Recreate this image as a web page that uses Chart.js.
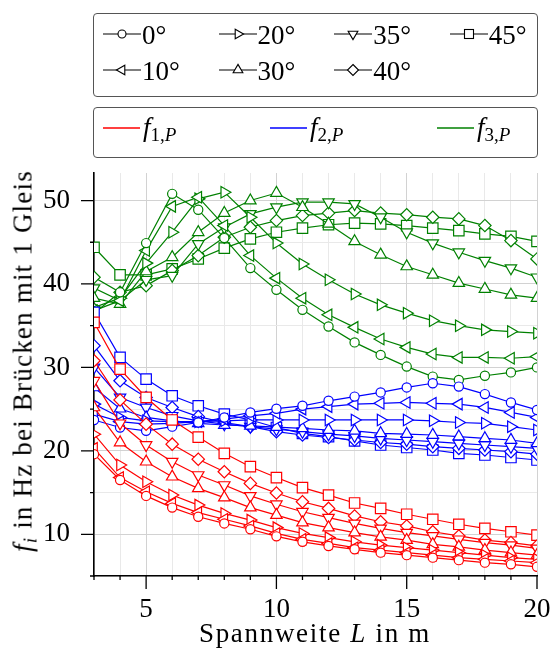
<!DOCTYPE html>
<html>
<head>
<meta charset="utf-8">
<script src="https://cdn.jsdelivr.net/npm/chart.js@4.4.1/dist/chart.umd.min.js"></script>
<style>
  html, body { margin: 0; padding: 0; background: #fff; }
  #wrap { position: relative; width: 554px; height: 649px; overflow: hidden; font-family: 'Liberation Serif', serif; color: #000; }
  #c { position: absolute; left: 0; top: 0; }
  .box { position: absolute; border: 1px solid #555; border-radius: 4px; box-sizing: border-box; }
  .lbl { position: absolute; font-size: 27px; line-height: 27px; white-space: nowrap; }
  .sym { position: absolute; }
  sub { font-size: 19px; vertical-align: -5px; line-height: 0; }
  #ytitle { position: absolute; font-size: 27px; line-height: 27px; white-space: nowrap; letter-spacing: 1.2px;
            left: 23px; top: 361px; transform: translate(-50%, -50%) rotate(-90deg); }
  #xtitle { position: absolute; font-size: 27px; line-height: 27px; white-space: nowrap; letter-spacing: 1.7px;
            left: 315px; top: 620px; transform: translateX(-50%); }
</style>
</head>
<body>
<div id="wrap">
  <canvas id="c" width="554" height="649"></canvas>
  <div class="box" style="left:93px; top:13px; width:445px; height:84px;"></div>
  <div class="box" style="left:93px; top:107px; width:445px; height:51px;"></div>
  <div id="legend"></div>
  <div id="ytitle"><i>f</i><sub><i>i</i></sub> in Hz bei Brücken mit 1 Gleis</div>
  <div id="xtitle">Spannweite <i>L</i> in m</div>
</div>
<script>
// span lengths L in m
const spans = [3, 4, 5, 6, 7, 8, 9, 10, 11, 12, 13, 14, 15, 16, 17, 18, 19, 20];
const angles = [0, 10, 20, 30, 35, 40, 45];
const xTicks = [5, 10, 15, 20];
const yTicks = [10, 20, 30, 40, 50];

// f1,P (red)
const f1_0  = [19.6, 16.5, 14.6, 13.2, 12.1, 11.3, 10.6, 9.75, 9.1, 8.6, 8.2, 7.8, 7.5, 7.2, 6.9, 6.6, 6.4, 6.1];
const f1_10 = [20.3, 16.8, 15.1, 13.7, 12.6, 11.8, 11.0, 10.1, 9.4, 8.9, 8.4, 8.1, 7.8, 7.5, 7.2, 7.0, 6.8, 6.6];
const f1_20 = [22.0, 18.3, 16.3, 14.7, 13.5, 12.5, 11.7, 10.8, 10.1, 9.6, 9.1, 8.7, 8.4, 8.1, 7.8, 7.5, 7.2, 7.0];
const f1_30 = [25.2, 21.0, 18.7, 16.9, 15.5, 14.4, 13.2, 12.3, 11.4, 10.8, 10.2, 9.7, 9.3, 8.8, 8.5, 8.1, 7.8, 7.5];
const f1_35 = [28.4, 23.3, 20.7, 18.7, 17.1, 15.9, 14.6, 13.6, 12.7, 12.0, 11.3, 10.7, 10.2, 9.8, 9.4, 9.0, 8.7, 8.3];
const f1_40 = [30.8, 26.1, 23.2, 20.8, 19.0, 17.5, 16.1, 14.95, 13.9, 13.1, 12.2, 11.5, 11.0, 10.3, 9.8, 9.3, 9.0, 8.6];
const f1_45 = [35.4, 29.8, 26.4, 23.7, 21.65, 19.7, 18.1, 16.8, 15.6, 14.7, 13.75, 13.1, 12.4, 11.8, 11.2, 10.7, 10.3, 9.9];

// f2,P (blue)
const f2_0  = [23.7, 22.8, 22.4, 22.9, 23.4, 24.0, 24.6, 25.05, 25.4, 26.0, 26.5, 27.0, 27.6, 28.1, 27.7, 26.8, 25.8, 24.9];
const f2_10 = [24.4, 23.5, 23.2, 23.3, 23.5, 23.8, 24.2, 24.5, 25.0, 25.3, 25.6, 25.7, 25.8, 25.7, 25.6, 25.2, 24.6, 24.0];
const f2_20 = [25.6, 24.0, 23.6, 23.5, 23.5, 23.6, 23.7, 23.7, 23.7, 23.7, 23.7, 23.7, 23.7, 23.6, 23.4, 23.3, 22.9, 22.5];
const f2_30 = [27.6, 25.05, 24.0, 23.6, 23.3, 23.1, 23.0, 22.85, 22.7, 22.5, 22.4, 22.1, 22.0, 21.9, 21.7, 21.5, 21.3, 20.9];
const f2_35 = [30.0, 26.4, 25.2, 24.2, 23.6, 23.2, 22.9, 22.6, 22.3, 22.0, 21.8, 21.5, 21.3, 21.1, 20.9, 20.7, 20.5, 20.3];
const f2_40 = [32.6, 28.4, 26.4, 25.2, 24.1, 23.4, 22.9, 22.3, 21.9, 21.6, 21.3, 21.0, 20.8, 20.5, 20.3, 20.1, 19.9, 19.6];
const f2_45 = [36.6, 31.2, 28.6, 26.6, 25.4, 24.4, 23.7, 22.8, 22.1, 21.7, 21.2, 20.7, 20.4, 20.1, 19.7, 19.5, 19.2, 18.9];

// f3,P (green)
const f3_0  = [36.5, 39.0, 44.9, 50.8, 48.9, 45.5, 41.9, 39.3, 36.9, 34.9, 33.0, 31.5, 30.1, 28.9, 28.5, 29.0, 29.4, 30.0];
const f3_10 = [36.8, 38.0, 44.0, 49.3, 50.4, 47.0, 43.4, 40.7, 38.3, 36.3, 34.8, 33.4, 32.4, 31.6, 31.2, 31.2, 31.1, 31.3];
const f3_20 = [37.2, 38.3, 42.5, 46.2, 50.2, 51.0, 48.0, 44.9, 42.4, 40.5, 38.8, 37.5, 36.5, 35.6, 35.0, 34.5, 34.3, 34.1];
const f3_30 = [38.3, 37.6, 41.5, 43.2, 46.2, 48.5, 50.0, 50.9, 49.2, 47.2, 45.1, 43.5, 42.1, 41.1, 40.1, 39.4, 38.7, 38.3];
const f3_35 = [39.5, 38.0, 40.5, 41.0, 44.8, 46.8, 48.4, 49.2, 49.8, 49.8, 49.6, 48.0, 46.2, 44.9, 43.8, 42.8, 41.9, 40.8];
const f3_40 = [40.8, 39.0, 39.8, 41.6, 43.4, 45.6, 46.8, 47.6, 48.2, 48.5, 48.8, 48.5, 48.3, 48.0, 47.8, 47.0, 45.2, 43.0];
const f3_45 = [44.4, 41.1, 41.1, 41.8, 43.0, 44.3, 45.4, 46.2, 46.7, 47.1, 47.3, 47.2, 47.0, 46.7, 46.4, 46.0, 45.7, 45.1];

const seriesNames = ['f1,P', 'f2,P', 'f3,P'];
const seriesColors = ['#ff0000', '#0000ff', '#008000'];
const seriesData = [
    [f1_0, f1_10, f1_20, f1_30, f1_35, f1_40, f1_45],
    [f2_0, f2_10, f2_20, f2_30, f2_35, f2_40, f2_45],
    [f3_0, f3_10, f3_20, f3_30, f3_35, f3_40, f3_45]
];

// marker per angle
const markerStyle = ['circle', 'triangle', 'triangle', 'triangle', 'triangle', 'rectRot', 'rect'];
const markerRot = [0, 270, 90, 0, 180, 0, 0];
const markerSize = [4.6, 6.6, 6.6, 6.6, 6.6, 6.2, 7.4];

const FONT = 'Liberation Serif';
const near = (v, list) => list.some(t => Math.abs(t - v) < 1e-6);

const datasets = [];
seriesData.forEach((group, s) => {
    group.forEach((vals, a) => {
        datasets.push({
            label: seriesNames[s] + ' ' + angles[a] + '°',
            data: spans.map((L, i) => ({ x: L, y: vals[i] })),
            borderColor: seriesColors[s],
            borderWidth: 1.2,
            pointStyle: markerStyle[a],
            rotation: markerRot[a],
            pointRadius: markerSize[a],
            pointBackgroundColor: '#fff',
            pointBorderColor: seriesColors[s],
            pointBorderWidth: 1.2,
            fill: false,
            tension: 0,
            clip: 0
        });
    });
});

// tick marks outside the axes, long for labelled ticks
const tickMarks = {
    id: 'tickMarks',
    afterDraw(chart) {
        const { ctx, chartArea, scales: { x, y } } = chart;
        ctx.save();
        ctx.strokeStyle = '#000';
        ctx.lineWidth = 1.3;
        ctx.beginPath();
        for (let v = spans[0]; v <= spans[spans.length - 1]; v++) {
            const px = x.getPixelForValue(v);
            const len = near(v, xTicks) ? 13 : 4;
            ctx.moveTo(px, chartArea.bottom);
            ctx.lineTo(px, chartArea.bottom + len);
        }
        for (let v = 5; v <= 50; v += 5) {
            const py = y.getPixelForValue(v);
            const len = near(v, yTicks) ? 13 : 4;
            ctx.moveTo(chartArea.left, py);
            ctx.lineTo(chartArea.left - len, py);
        }
        ctx.stroke();
        ctx.restore();
    }
};

new Chart(document.getElementById('c'), {
    type: 'line',
    data: { datasets },
    options: {
        responsive: false,
        animation: false,
        events: [],
        layout: { padding: { left: 0, right: 17, top: 173, bottom: 0 } },
        plugins: { legend: { display: false }, tooltip: { enabled: false } },
        scales: {
            x: {
                type: 'linear',
                min: 3,
                max: 20,
                afterFit: s => { s.height = 73; s.paddingLeft = 0; s.paddingRight = 0; },
                ticks: {
                    stepSize: 1,
                    autoSkip: false,
                    maxRotation: 0,
                    padding: 18,
                    color: '#000',
                    font: { family: FONT, size: 27 },
                    callback: v => near(v, xTicks) ? String(Math.round(v)) : ''
                },
                grid: {
                    drawTicks: false,
                    lineWidth: 1,
                    color: c => near(c.tick.value, xTicks) ? '#d2d2d2' : '#e9e9e9'
                },
                border: { color: '#000', width: 1.6 }
            },
            y: {
                min: 5,
                max: 53.3,
                afterFit: s => { s.width = 94; s.paddingTop = 0; s.paddingBottom = 0; },
                ticks: {
                    stepSize: 5,
                    includeBounds: false,
                    padding: 24,
                    color: '#000',
                    font: { family: FONT, size: 27 },
                    callback: v => near(v, yTicks) ? String(Math.round(v)) : ''
                },
                grid: {
                    drawTicks: false,
                    lineWidth: 1,
                    color: c => near(c.tick.value, yTicks) ? '#d2d2d2' : '#e9e9e9'
                },
                border: { color: '#000', width: 1.6 }
            }
        }
    },
    plugins: [tickMarks]
});

// legends (HTML)
function markerSvg(a, color) {
    const cx = 19, cy = 10;
    let shape = '';
    const st = `fill="#fff" stroke="${color}" stroke-width="1.1"`;
    if (markerStyle[a] === 'circle') {
        shape = `<circle cx="${cx}" cy="${cy}" r="4" ${st}/>`;
    } else if (markerStyle[a] === 'rect') {
        shape = `<rect x="${cx - 4.5}" y="${cy - 4.5}" width="9" height="9" ${st}/>`;
    } else if (markerStyle[a] === 'rectRot') {
        shape = `<polygon points="${cx},${cy - 5.5} ${cx + 5.5},${cy} ${cx},${cy + 5.5} ${cx - 5.5},${cy}" ${st}/>`;
    } else {
        const r = 5.6;
        const pts = [0, 120, 240].map(d => {
            const rad = (d + markerRot[a]) * Math.PI / 180;
            return (cx + Math.sin(rad) * r).toFixed(2) + ',' + (cy - Math.cos(rad) * r).toFixed(2);
        }).join(' ');
        shape = `<polygon points="${pts}" ${st}/>`;
    }
    return `<svg width="38" height="20" xmlns="http://www.w3.org/2000/svg">` +
        `<line x1="0" y1="${cy}" x2="38" y2="${cy}" stroke="${color}" stroke-width="1.1"/>` + shape + `</svg>`;
}

function lineSvg(color) {
    return `<svg width="37" height="20" xmlns="http://www.w3.org/2000/svg">` +
        `<line x1="0" y1="10" x2="37" y2="10" stroke="${color}" stroke-width="1.3"/></svg>`;
}

const legend = document.getElementById('legend');
let html = '';
angles.forEach((ang, a) => {
    const col = Math.floor(a / 2), row = a % 2;
    const x0 = 103 + col * 115.6;
    const ly = 34 + row * 36;
    html += `<div class="sym" style="left:${x0}px; top:${ly - 10}px">${markerSvg(a, '#000')}</div>`;
    html += `<div class="lbl" style="left:${x0 + 39}px; top:${ly - 12}px">${ang}°</div>`;
});
const lx = [103, 270, 437];
seriesNames.forEach((name, s) => {
    const ly = 128;
    html += `<div class="sym" style="left:${lx[s]}px; top:${ly - 10}px">${lineSvg(seriesColors[s])}</div>`;
    html += `<div class="lbl" style="left:${lx[s] + 40}px; top:${ly - 14}px"><i>f</i><sub>${s + 1},<i>P</i></sub></div>`;
});
legend.innerHTML = html;
</script>
</body>
</html>
